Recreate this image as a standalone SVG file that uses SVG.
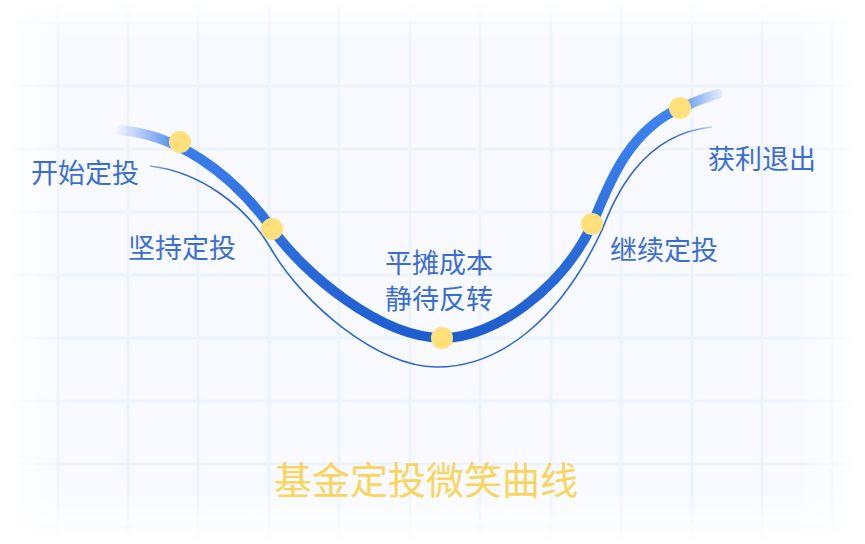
<svg xmlns="http://www.w3.org/2000/svg" width="865" height="544" viewBox="0 0 865 544">
<style>
.grid line{stroke:#edf3fd;stroke-width:3}
.lbl{font-family:"Noto Sans CJK SC","Noto Sans",sans-serif;font-size:27px;fill:#3a6ed6}
.title{font-family:"Noto Sans CJK SC","Noto Sans",sans-serif;font-size:38px;fill:#f9d55e}
.dot{fill:#ffe07a}
</style>
<defs>
<linearGradient id="thickCol" gradientUnits="userSpaceOnUse" x1="0" y1="90" x2="0" y2="345">
<stop offset="0" stop-color="#4387f3"/>
<stop offset="1" stop-color="#1d5ccd"/>
</linearGradient>
<linearGradient id="fadeH" gradientUnits="userSpaceOnUse" x1="115" y1="0" x2="722" y2="0">
<stop offset="0" stop-color="#fff" stop-opacity="0"/>
<stop offset="0.11" stop-color="#fff" stop-opacity="1"/>
<stop offset="0.92" stop-color="#fff" stop-opacity="1"/>
<stop offset="1" stop-color="#fff" stop-opacity="0.1"/>
</linearGradient>
<mask id="fadeMask" maskUnits="userSpaceOnUse" x="0" y="0" width="865" height="544">
<rect x="0" y="0" width="865" height="544" fill="url(#fadeH)"/>
</mask>
<linearGradient id="edgeL" x1="0" y1="0" x2="1" y2="0">
<stop offset="0" stop-color="#fff" stop-opacity="1"/>
<stop offset="1" stop-color="#fff" stop-opacity="0"/>
</linearGradient>
<linearGradient id="edgeR" x1="1" y1="0" x2="0" y2="0">
<stop offset="0" stop-color="#fff" stop-opacity="1"/>
<stop offset="1" stop-color="#fff" stop-opacity="0"/>
</linearGradient>
<linearGradient id="edgeT" x1="0" y1="0" x2="0" y2="1">
<stop offset="0" stop-color="#fff" stop-opacity="1"/>
<stop offset="1" stop-color="#fff" stop-opacity="0"/>
</linearGradient>
<linearGradient id="edgeB" x1="0" y1="1" x2="0" y2="0">
<stop offset="0" stop-color="#fff" stop-opacity="1"/>
<stop offset="1" stop-color="#fff" stop-opacity="0"/>
</linearGradient>
</defs>

<rect x="0" y="0" width="865" height="544" fill="#fff"/>
<rect x="12" y="0" width="840" height="544" fill="#f8faff"/>
<g class="grid">
<line x1="58" y1="0" x2="58" y2="544"/>
<line x1="128" y1="0" x2="128" y2="544"/>
<line x1="198" y1="0" x2="198" y2="544"/>
<line x1="269" y1="0" x2="269" y2="544"/>
<line x1="339" y1="0" x2="339" y2="544"/>
<line x1="410" y1="0" x2="410" y2="544"/>
<line x1="480" y1="0" x2="480" y2="544"/>
<line x1="551" y1="0" x2="551" y2="544"/>
<line x1="621" y1="0" x2="621" y2="544"/>
<line x1="692" y1="0" x2="692" y2="544"/>
<line x1="762" y1="0" x2="762" y2="544"/>
<line x1="832" y1="0" x2="832" y2="544"/>
<line x1="12" y1="23" x2="852" y2="23"/>
<line x1="12" y1="86" x2="852" y2="86"/>
<line x1="12" y1="149" x2="852" y2="149"/>
<line x1="12" y1="212" x2="852" y2="212"/>
<line x1="12" y1="275" x2="852" y2="275"/>
<line x1="12" y1="338" x2="852" y2="338"/>
<line x1="12" y1="401" x2="852" y2="401"/>
<line x1="12" y1="464" x2="852" y2="464"/>
<line x1="12" y1="527" x2="852" y2="527"/>
</g>
<rect x="0" y="0" width="70" height="544" fill="url(#edgeL)"/>
<rect x="795" y="0" width="70" height="544" fill="url(#edgeR)"/>
<rect x="0" y="0" width="865" height="40" fill="url(#edgeT)"/>
<rect x="0" y="490" width="865" height="54" fill="url(#edgeB)"/>

<g id="connectors" fill="none" mask="url(#fadeMask)">
<path id="thick-curve" d="M118,130 C175,134 230,170 273,230 C303,272 380,338 443,338 C495,338 562,288 592,225 C607,189 626,132 680,108 C692,103.5 705,97 718,94" stroke="url(#thickCol)" stroke-width="10" stroke-linecap="round"/>
<path id="thin-curve" d="M150,166 C200,172 245,205 270,247 C303,305 380,368 437,367 C500,367 560,320 602,230 C614,200 640,134 712,127" stroke="#2e66d8" stroke-width="1.6"/>
</g>

<g id="node-start">
<circle class="dot" cx="180" cy="142" r="11"/>
<text class="lbl" x="31" y="183">开始定投</text>
</g>
<g id="node-hold">
<circle class="dot" cx="272" cy="229" r="11"/>
<text class="lbl" x="128" y="258">坚持定投</text>
</g>
<g id="node-bottom">
<circle class="dot" cx="442" cy="338" r="11"/>
<text class="lbl" x="385" y="273">平摊成本</text>
<text class="lbl" x="385" y="309">静待反转</text>
</g>
<g id="node-continue">
<circle class="dot" cx="592" cy="224" r="11"/>
<text class="lbl" x="610" y="260">继续定投</text>
</g>
<g id="node-exit">
<circle class="dot" cx="680" cy="108" r="11"/>
<text class="lbl" x="708" y="169">获利退出</text>
</g>
<g id="title">
<text class="title" x="274" y="494">基金定投微笑曲线</text>
</g>
</svg>
